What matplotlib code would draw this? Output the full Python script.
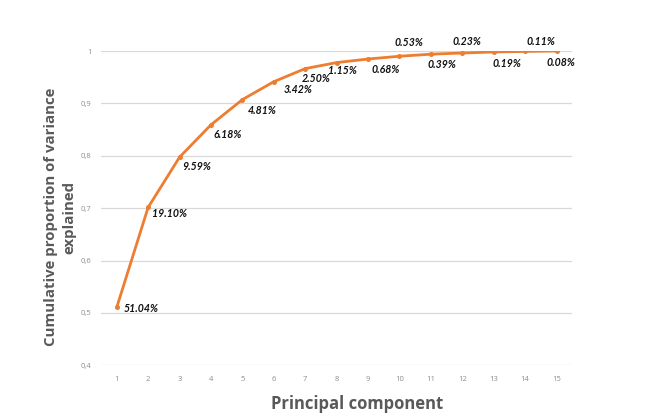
import matplotlib
matplotlib.use("Agg")
import matplotlib.pyplot as plt
from matplotlib.ticker import FixedLocator

components = list(range(1, 16))
cumulative = [0.5104, 0.7014, 0.7973, 0.8591, 0.9072, 0.9414, 0.9664, 0.9779,
              0.9847, 0.9900, 0.9939, 0.9962, 0.9981, 0.9992, 1.0000]
labels = ["51.04%", "19.10%", "9.59%", "6.18%", "4.81%", "3.42%", "2.50%", "1.15%",
          "0.68%", "0.53%", "0.39%", "0.23%", "0.19%", "0.11%", "0.08%"]
y_ticks = [0.4, 0.5, 0.6, 0.7, 0.8, 0.9, 1.0]
y_ticklabels = ["0,4", "0,5", "0,6", "0,7", "0,8", "0,9", "1"]

# label offsets in pixels (left edge dx, center dy; positive dy = up)
offsets = [(7, -1), (3.5, -6), (2.5, -9.5), (2, -10), (5, -11), (10, -8), (-3.5, -10),
           (-9, -8), (3, -10), (-5, 14), (-3, -10), (-10, 11), (-1.5, -12), (1, 9.5), (-10.5, -12)]

W, H = 654, 417
fig = plt.figure(figsize=(W / 100, H / 100), dpi=100)
ax = fig.add_axes([101 / W, 1 - 365.3 / H, (572.3 - 101) / W, (365.3 - 51) / H])

ax.plot(components, cumulative, color="#ED7D31", lw=2.0, marker="o", ms=3.6,
        markeredgewidth=0, zorder=3, solid_capstyle="round")

for x, y, t, (dx, dy) in zip(components, cumulative, labels, offsets):
    ax.annotate(t, (x, y), xytext=(dx, dy), textcoords="offset pixels",
                ha="left", va="center", fontsize=7.6, fontweight="bold",
                fontstyle="italic", color="#111111", family="Lato", zorder=4)

ax.set_xlim(0.5, 15.5)
ax.set_ylim(0.4, 1.0)
ax.xaxis.set_major_locator(FixedLocator(components))
ax.set_xticklabels([str(c) for c in components])
ax.yaxis.set_major_locator(FixedLocator(y_ticks))
ax.set_yticklabels(y_ticklabels)
ax.grid(axis="y", color="#d9d9d9", lw=0.9)
ax.set_axisbelow(True)
for s in ax.spines.values():
    s.set_visible(False)
ax.tick_params(length=0, labelsize=5.5, labelcolor="#8c8c8c", pad=7)
for lab in ax.get_xticklabels() + ax.get_yticklabels():
    lab.set_family("Open Sans")
ax.tick_params(axis="x", pad=8)

fig.text(357 / W, 1 - 404 / H, "Principal component", ha="center", va="center",
         fontsize=12, fontweight="bold", color="#595959", family="Open Sans")
fig.text(60 / W, 1 - 217 / H, "Cumulative proportion of variance\nexplained",
         ha="center", va="center", rotation=90, multialignment="center",
         fontsize=10.8, fontweight="bold", color="#595959", family="Open Sans",
         linespacing=1.4)

fig.savefig("out.png", dpi=100)
